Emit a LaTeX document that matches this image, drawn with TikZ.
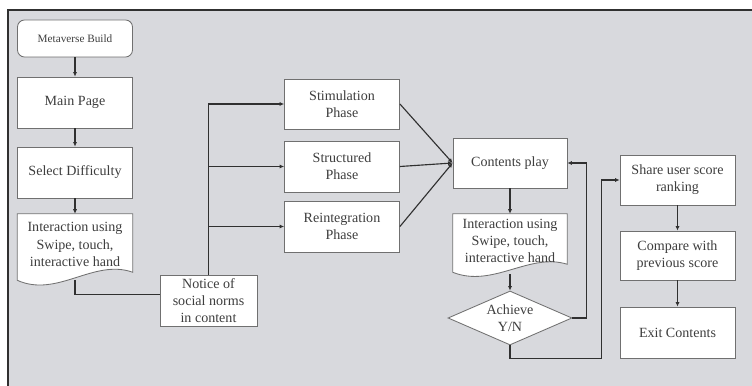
\documentclass[tikz,border=0pt]{standalone}
\usepackage{fontspec}
\setmainfont{Liberation Serif}
\usepackage{tikz}
\usetikzlibrary{positioning, arrows.meta, shapes.geometric}

\definecolor{panel}{RGB}{216,217,221}
\definecolor{edge}{RGB}{112,112,112}
\definecolor{ink}{RGB}{62,62,62}
\definecolor{wire}{RGB}{48,48,48}

\begin{document}
\begin{tikzpicture}[
font=\fontsize{10}{12.3}\selectfont, text=ink,
proc/.style={rectangle, draw=edge, fill=white, line width=0.6pt, minimum width=2.875cm, minimum height=1.275cm, align=center, inner sep=1pt},
start/.style={proc, rounded corners=5pt, minimum height=0.925cm, font=\fontsize{8}{9.6}\selectfont},
docu/.style={rectangle, minimum width=2.875cm, align=center, inner sep=1pt},
docline/.style={draw=edge, fill=white, line width=0.6pt},
decide/.style={diamond, draw=edge, fill=white, line width=0.6pt, shape aspect=2.3, minimum width=3.1cm, minimum height=1.35cm, inner sep=0pt, align=center},
link/.style={draw=wire, line width=0.8pt},
arr/.style={link, -{Latex[length=3.2pt, width=3pt]}}
]

% panel
\useasboundingbox (0,0) rectangle (18.8,9.65);
\fill[panel] (0.2,0) rectangle (18.8,9.4);
\draw[wire, line width=1pt] (0.2,0) -- (0.2,9.4) -- (18.8,9.4);

% left column
\node[start] (build) at (1.875,8.6875) {Metaverse Build};
\node[proc] (main) at (1.875,7.0875) {Main Page};
\node[proc] (diff) at (1.875,5.3375) {Select Difficulty};
\node[docu, minimum height=1.65cm] (inter1) at (1.875,3.475) {};
\draw[docline] (inter1.south west) .. controls +(1.0,-0.45) and +(-0.975,0.35) .. ([yshift=0.2cm]inter1.south east) -- (inter1.north east) -- (inter1.north west) -- cycle;
\node[docu, yshift=0.06cm] at (inter1) {Interaction using\\Swipe, touch,\\interactive hand};
\node[proc, minimum width=2.425cm] (notice) at (5.2125,2.1375) {Notice of\\social norms\\in content};

% phases
\node[proc, minimum height=1.25cm] (stim) at (8.55,7.05) {Stimulation\\Phase};
\node[proc] (struct) at (8.55,5.4875) {Structured\\Phase};
\node[proc] (reint) at (8.55,3.9875) {Reintegration\\Phase};

% play loop
\node[proc, minimum width=2.85cm, minimum height=1.25cm] (play) at (12.75,5.575) {Contents play};
\node[docu, minimum width=2.85cm, minimum height=1.45cm] (inter2) at (12.75,3.575) {};
\draw[docline] (inter2.south west) .. controls +(1.0,-0.4) and +(-0.95,0.3) .. ([yshift=0.2cm]inter2.south east) -- (inter2.north east) -- (inter2.north west) -- cycle;
\node[docu, minimum width=2.85cm, yshift=0.05cm] at (inter2) {Interaction using\\Swipe, touch,\\interactive hand};
\node[decide] (ach) at (12.75,1.7) {Achieve\\Y/N};

% right column
\node[proc, minimum height=1.25cm] (share) at (16.9375,5.15) {Share user score\\ranking};
\node[proc, minimum height=1.225cm] (comp) at (16.9375,3.2625) {Compare with\\previous score};
\node[proc] (exit) at (16.9375,1.3375) {Exit Contents};

\draw[arr] (build) -- (main);
\draw[arr] (main) -- (diff);
\draw[arr] (diff) -- (inter1);
\draw[link] (inter1.south) |- ([yshift=0.14cm]notice.west);

\draw[arr] (notice.north) |- (stim.west);
\draw[arr] (notice.north) |- (struct.west);
\draw[arr] (notice.north) |- (reint.west);

\draw[arr] (stim.east) -- (play.west);
\draw[arr] (struct.east) -- (play.west);
\draw[arr] (reint.east) -- (play.west);

\draw[arr] (play) -- (inter2);
\draw[arr] ([yshift=-0.05cm]inter2.south) -- (ach.north);
\draw[arr] (ach.east) -- ++(0.35,0) |- (play.east);
\draw[arr] (ach.south) -- ++(0,-0.325) -| ([xshift=-0.45cm]share.west) -- (share.west);

\draw[arr] (share) -- (comp);
\draw[arr] (comp) -- (exit);

\end{tikzpicture}
\end{document}
